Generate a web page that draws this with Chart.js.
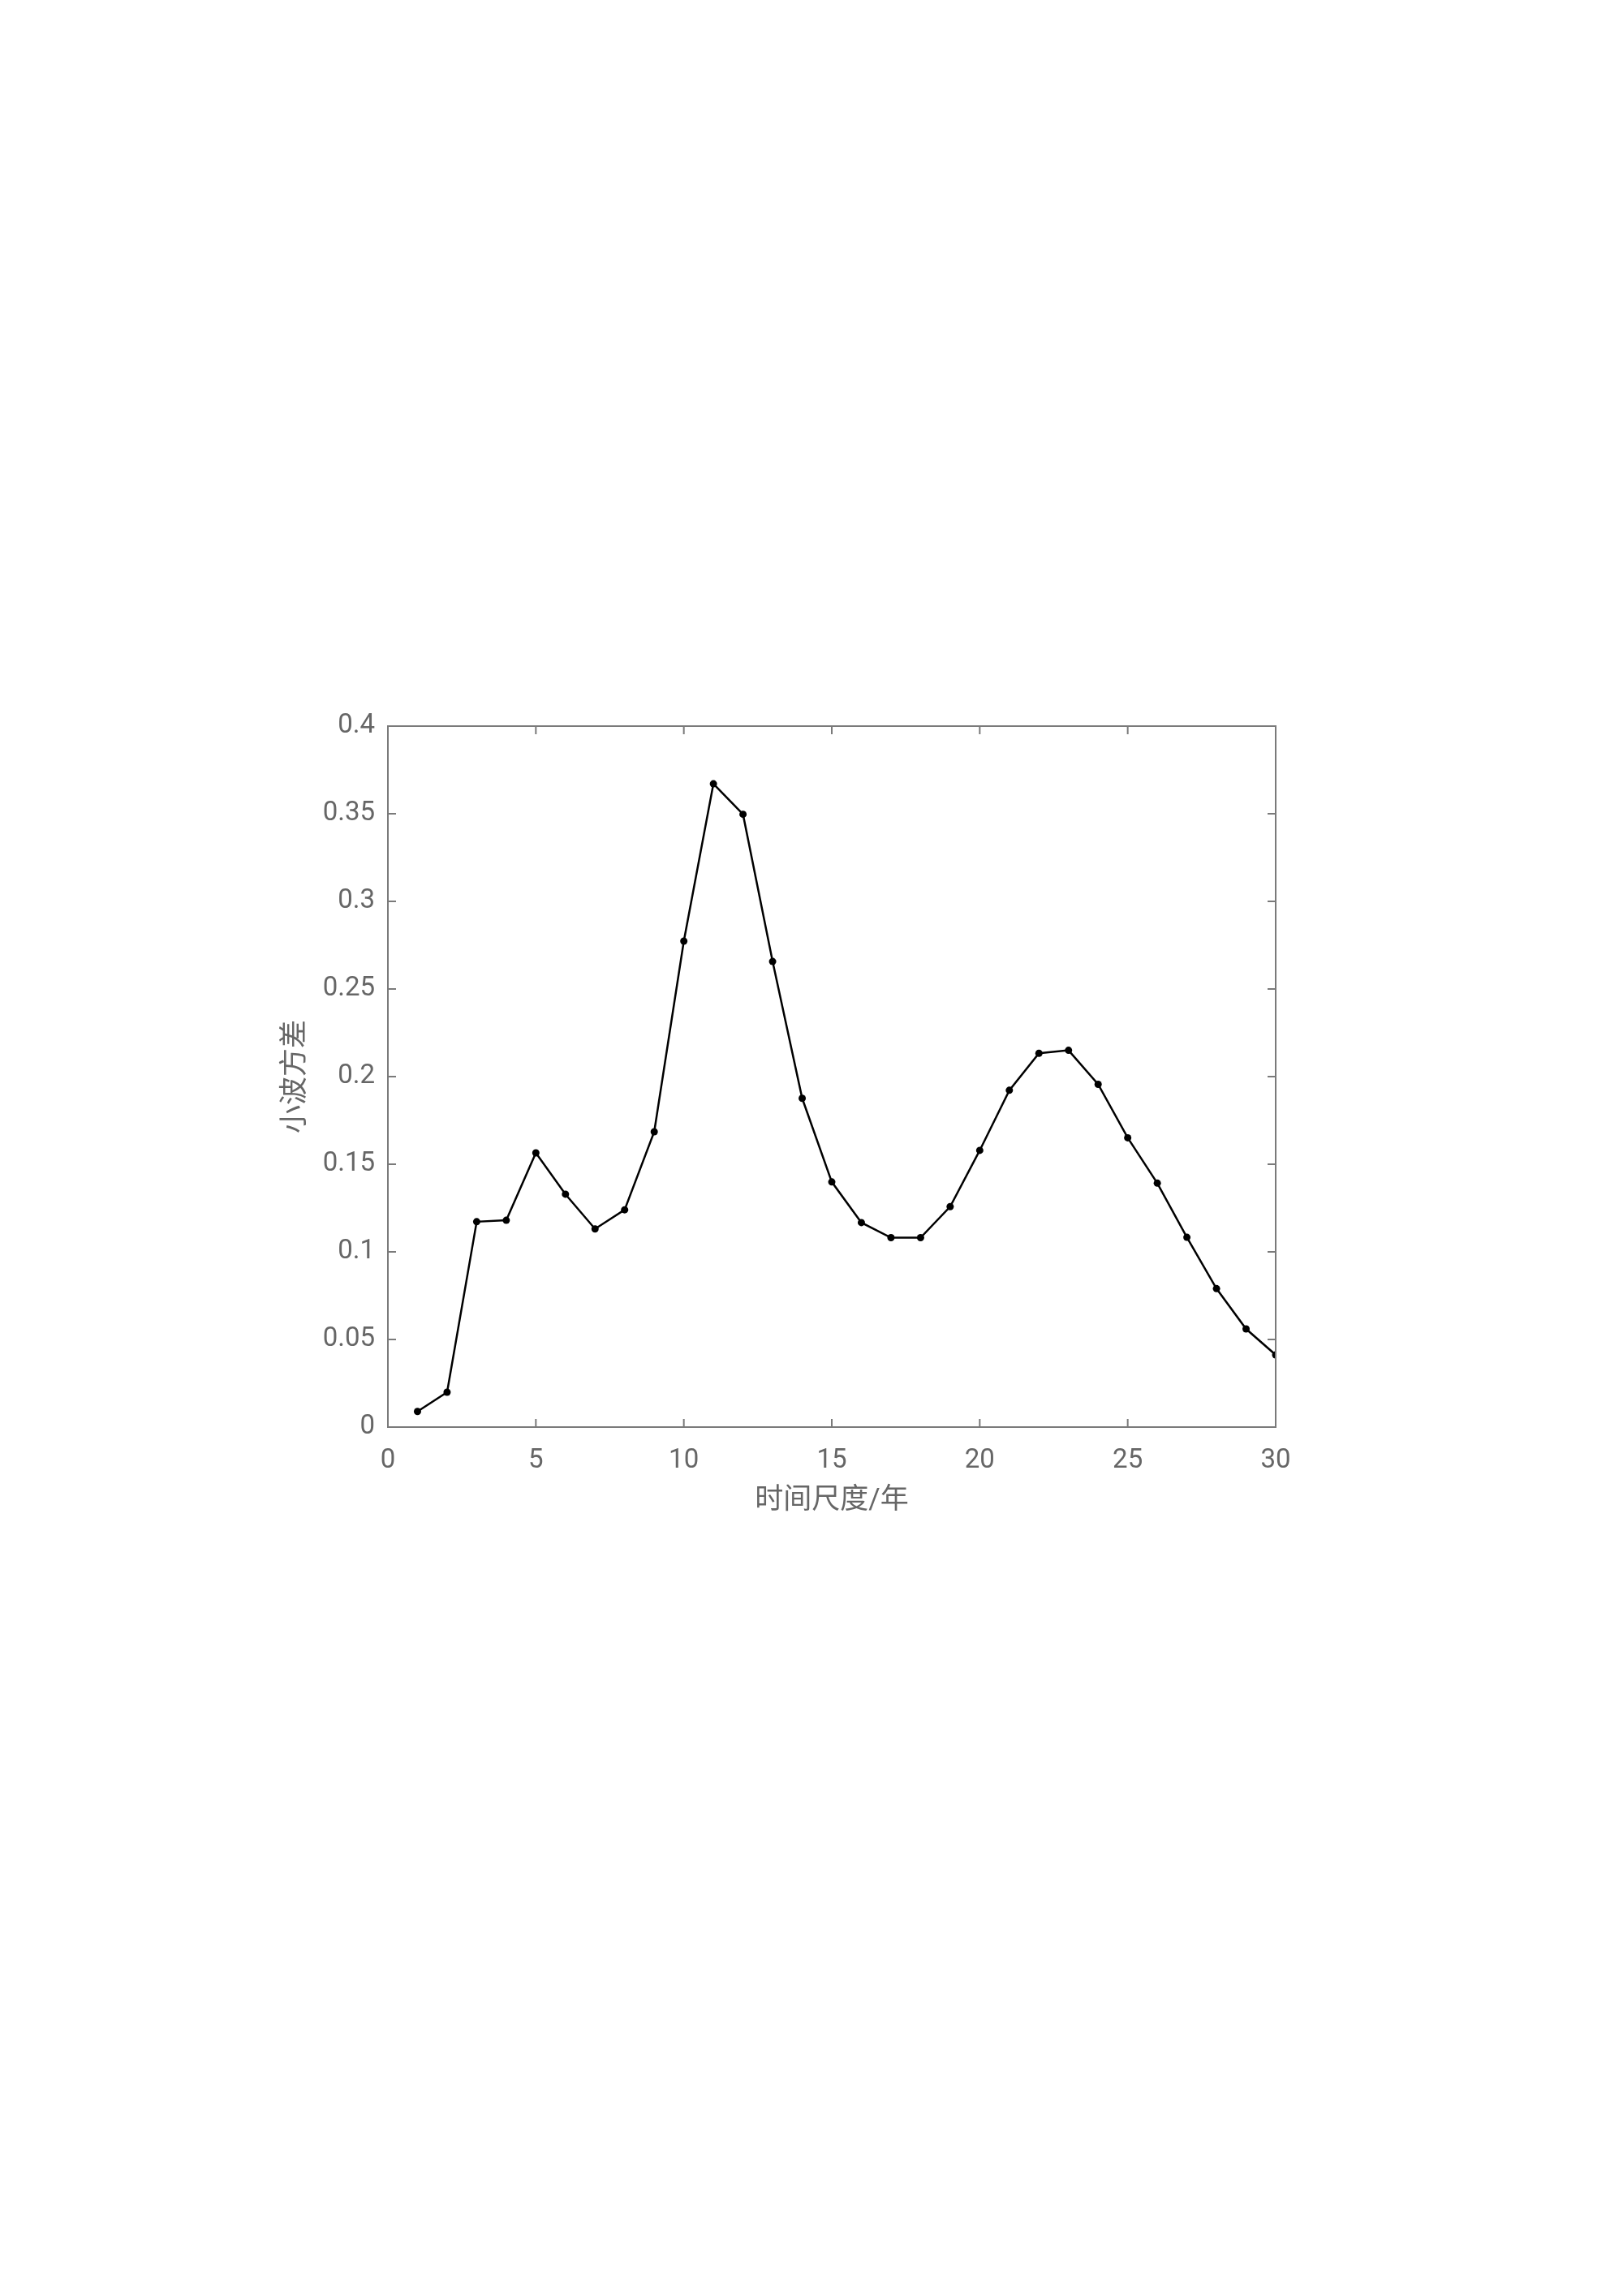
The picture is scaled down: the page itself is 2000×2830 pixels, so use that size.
<!DOCTYPE html>
<html>
<head>
<meta charset="utf-8">
<script src="https://cdn.jsdelivr.net/npm/chart.js@4"></script>
<style>
  html, body { margin: 0; padding: 0; background: #fff; }
  #wrap { width: 2000px; height: 2830px; }
</style>
</head>
<body>
<div id="wrap"><canvas id="chart" width="2000" height="2830"></canvas></div>
<script>
const scales = [1, 2, 3, 4, 5, 6, 7, 8, 9, 10, 11, 12, 13, 14, 15, 16, 17, 18, 19, 20, 21, 22, 23, 24, 25, 26, 27, 28, 29, 30];
const variance = [0.0089, 0.0199, 0.1172, 0.1180, 0.1565, 0.1329, 0.1131, 0.1240, 0.1685, 0.2773,
  0.3671, 0.3497, 0.2657, 0.1876, 0.1399, 0.1167, 0.1081, 0.1081, 0.1258, 0.1579,
  0.1922, 0.2133, 0.2150, 0.1956, 0.1651, 0.1392, 0.1083, 0.0790, 0.0560, 0.0412];
const xTicks = [0, 5, 10, 15, 20, 25, 30];
const yTicks = [0, 0.05, 0.1, 0.15, 0.2, 0.25, 0.3, 0.35, 0.4];

const axisColor = '#7a7a7a';
const textColor = '#666666';
const fontFamily = "Roboto, 'Noto Sans CJK SC', sans-serif";

// box around the plot area plus inward ticks, MATLAB style
const boxTicks = {
  id: 'boxTicks',
  afterDraw(chart) {
    const { ctx, chartArea: a } = chart;
    const xs = chart.scales.x, ys = chart.scales.y;
    const len = 10;
    ctx.save();
    ctx.strokeStyle = axisColor;
    ctx.lineWidth = 2;
    ctx.strokeRect(a.left, a.top, a.right - a.left, a.bottom - a.top);
    ctx.beginPath();
    xTicks.forEach(v => {
      const px = xs.getPixelForValue(v);
      ctx.moveTo(px, a.bottom); ctx.lineTo(px, a.bottom - len);
      ctx.moveTo(px, a.top); ctx.lineTo(px, a.top + len);
    });
    yTicks.forEach(v => {
      const py = ys.getPixelForValue(v);
      ctx.moveTo(a.left, py); ctx.lineTo(a.left + len, py);
      ctx.moveTo(a.right, py); ctx.lineTo(a.right - len, py);
    });
    ctx.stroke();
    ctx.restore();
  }
};

new Chart(document.getElementById('chart'), {
  type: 'line',
  data: {
    datasets: [{
      data: scales.map((s, i) => ({ x: s, y: variance[i] })),
      borderColor: '#000',
      backgroundColor: '#000',
      borderWidth: 2.5,
      pointRadius: 4.5,
      pointBackgroundColor: '#000',
      pointBorderWidth: 0,
      fill: false,
      tension: 0
    }]
  },
  options: {
    responsive: false,
    animation: false,
    devicePixelRatio: 1,
    layout: { padding: { left: 344, top: 895, right: 428, bottom: 959 } },
    plugins: { legend: { display: false }, tooltip: { enabled: false } },
    scales: {
      x: {
        type: 'linear',
        min: 0,
        max: 30,
        afterFit: s => { s.height = 112; },
        afterBuildTicks: s => { s.ticks = xTicks.map(v => ({ value: v })); },
        grid: { display: false, drawTicks: false },
        border: { display: false },
        ticks: { padding: 22, color: textColor, font: { family: fontFamily, size: 33 }, maxRotation: 0 },
        title: { display: true, text: '时间尺度/年', color: textColor, padding: 0, font: { family: fontFamily, size: 35 } }
      },
      y: {
        type: 'linear',
        min: 0,
        max: 0.4,
        afterFit: s => { s.width = 134; },
        afterBuildTicks: s => { s.ticks = yTicks.map(v => ({ value: v })); },
        grid: { display: false, drawTicks: false },
        border: { display: false },
        ticks: { padding: 16, color: textColor, font: { family: fontFamily, size: 33 }, callback: v => String(+v.toFixed(2)) },
        title: { display: true, text: '小波方差', color: textColor, padding: 0, font: { family: fontFamily, size: 35 } }
      }
    }
  },
  plugins: [boxTicks]
});
</script>
</body>
</html>
